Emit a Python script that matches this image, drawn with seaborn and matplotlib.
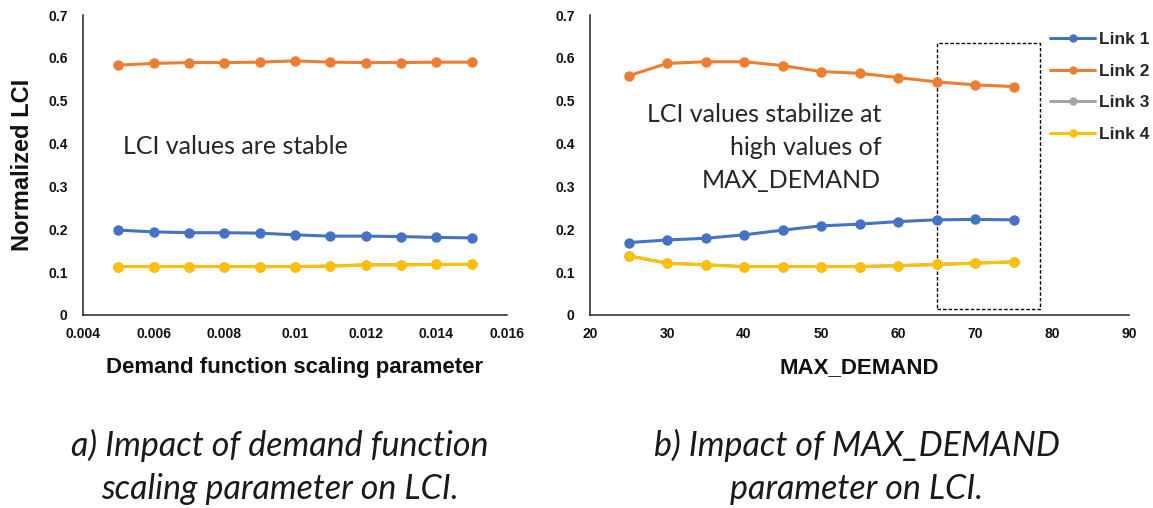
import matplotlib
matplotlib.use("Agg")
import matplotlib.pyplot as plt
from matplotlib.lines import Line2D
from matplotlib.patches import Rectangle
import seaborn as sns
import pandas as pd

# data
links = ['Link 1', 'Link 2', 'Link 3', 'Link 4']
colors = ['#4472C4', '#ED7D31', '#A5A5A5', '#FFC000']

scale_x = [0.005, 0.006, 0.007, 0.008, 0.009, 0.010, 0.011, 0.012, 0.013, 0.014, 0.015]
scale_link1 = [0.198, 0.194, 0.192, 0.192, 0.191, 0.187, 0.184, 0.184, 0.183, 0.181, 0.180]
scale_link2 = [0.583, 0.587, 0.589, 0.589, 0.590, 0.593, 0.590, 0.589, 0.589, 0.590, 0.590]
scale_link3 = [0.113, 0.113, 0.113, 0.113, 0.113, 0.113, 0.114, 0.117, 0.117, 0.118, 0.118]
scale_link4 = [0.113, 0.113, 0.113, 0.113, 0.113, 0.113, 0.114, 0.117, 0.117, 0.118, 0.118]

demand_x = [25, 30, 35, 40, 45, 50, 55, 60, 65, 70, 75]
demand_link1 = [0.169, 0.175, 0.179, 0.187, 0.198, 0.208, 0.212, 0.218, 0.222, 0.223, 0.222]
demand_link2 = [0.558, 0.587, 0.591, 0.591, 0.582, 0.568, 0.564, 0.554, 0.544, 0.537, 0.533]
demand_link3 = [0.138, 0.121, 0.117, 0.113, 0.113, 0.113, 0.113, 0.115, 0.118, 0.121, 0.124]
demand_link4 = [0.138, 0.121, 0.117, 0.113, 0.113, 0.113, 0.113, 0.115, 0.118, 0.121, 0.124]

scale_ticks = [0.004, 0.006, 0.008, 0.010, 0.012, 0.014, 0.016]
scale_ticklabels = ['0.004', '0.006', '0.008', '0.01', '0.012', '0.014', '0.016']
demand_ticks = [20, 30, 40, 50, 60, 70, 80, 90]
y_ticks = [0, 0.1, 0.2, 0.3, 0.4, 0.5, 0.6, 0.7]
y_ticklabels = ['0', '0.1', '0.2', '0.3', '0.4', '0.5', '0.6', '0.7']


def long_table(x, series):
    parts = []
    for name, vals in zip(links, series):
        parts.append(pd.DataFrame({'x': x, 'LCI': vals, 'Link': name}))
    return pd.concat(parts, ignore_index=True)


df_a = long_table(scale_x, [scale_link1, scale_link2, scale_link3, scale_link4])
df_b = long_table(demand_x, [demand_link1, demand_link2, demand_link3, demand_link4])

sns.set_style('white')
plt.rcParams['font.family'] = ['Liberation Sans', 'DejaVu Sans']

fig = plt.figure(figsize=(11.53, 5.08), dpi=100)
ax1 = fig.add_axes([83/1153, 1-315/508, 424/1153, 300/508])
ax2 = fig.add_axes([590/1153, 1-315/508, 539/1153, 300/508])

for ax, df in [(ax1, df_a), (ax2, df_b)]:
    sns.lineplot(data=df, x='x', y='LCI', hue='Link', hue_order=links,
                 palette=colors, marker='o', markersize=7.5, markeredgewidth=0,
                 linewidth=2.2, legend=False, ax=ax)
    ax.set_ylim(0, 0.7)
    ax.set_yticks(y_ticks)
    ax.set_yticklabels(y_ticklabels, fontsize=10, fontweight='bold')
    for s in ['top', 'right']:
        ax.spines[s].set_visible(False)
    for s in ['left', 'bottom']:
        ax.spines[s].set_color('#222222')
        ax.spines[s].set_linewidth(1.1)
    ax.tick_params(axis='both', length=0, colors='#111111')
    ax.tick_params(axis='y', pad=11)
    ax.tick_params(axis='x', pad=9)
    ax.set_ylabel('')

ax1.set_xlim(0.004, 0.016)
ax1.set_xticks(scale_ticks)
ax1.set_xticklabels(scale_ticklabels, fontsize=10, fontweight='bold')
ax1.set_xlabel('Demand function scaling parameter', fontsize=16, fontweight='bold',
               labelpad=11, color='#111111')
ax1.set_ylabel('Normalized LCI', fontsize=17, fontweight='bold', labelpad=10,
               color='#111111')

ax2.set_xlim(20, 90)
ax2.set_xticks(demand_ticks)
ax2.set_xticklabels([str(t) for t in demand_ticks], fontsize=10, fontweight='bold')
ax2.set_xlabel('MAX_DEMAND', fontsize=16, fontweight='bold', labelpad=11, color='#111111')

ax1.text(0.00513, 0.392, 'LCI values are stable', fontsize=18, family='Lato',
         color='#262626', ha='left', va='center')
ax2.text(57.8, 0.39, 'LCI values stabilize at\nhigh values of\nMAX_DEMAND', fontsize=18,
         family='Lato', color='#262626', ha='right', va='center', multialignment='right',
         linespacing=1.52)

ax2.add_patch(Rectangle((65, 0.013), 13.5, 0.621, fill=False, ec='black',
                        lw=1, ls=(0, (2.5, 1.5))))

handles = [Line2D([], [], color=c, lw=2.2, marker='o', markersize=6, markeredgewidth=0)
           for c in colors]
fig.legend(handles, links, loc='upper left', bbox_to_anchor=(1050/1153, 1-32/508),
           frameon=False, handlelength=2.6, handletextpad=0.25, labelspacing=0.95,
           borderpad=0, borderaxespad=0,
           prop={'family': ['Liberation Sans', 'DejaVu Sans'], 'weight': 'bold', 'size': 12.5})

fig.text(280/1153, 1-467/508, 'a) Impact of demand function\nscaling parameter on LCI.',
         fontsize=24.5, family='Lato', style='italic', weight='normal', color='#1a1a1a',
         ha='center', va='center', linespacing=1.42)
fig.text(857/1153, 1-467/508, 'b) Impact of MAX_DEMAND\nparameter on LCI.',
         fontsize=24.5, family='Lato', style='italic', weight='normal', color='#1a1a1a',
         ha='center', va='center', linespacing=1.42)

fig.savefig('out.png', dpi=100)
